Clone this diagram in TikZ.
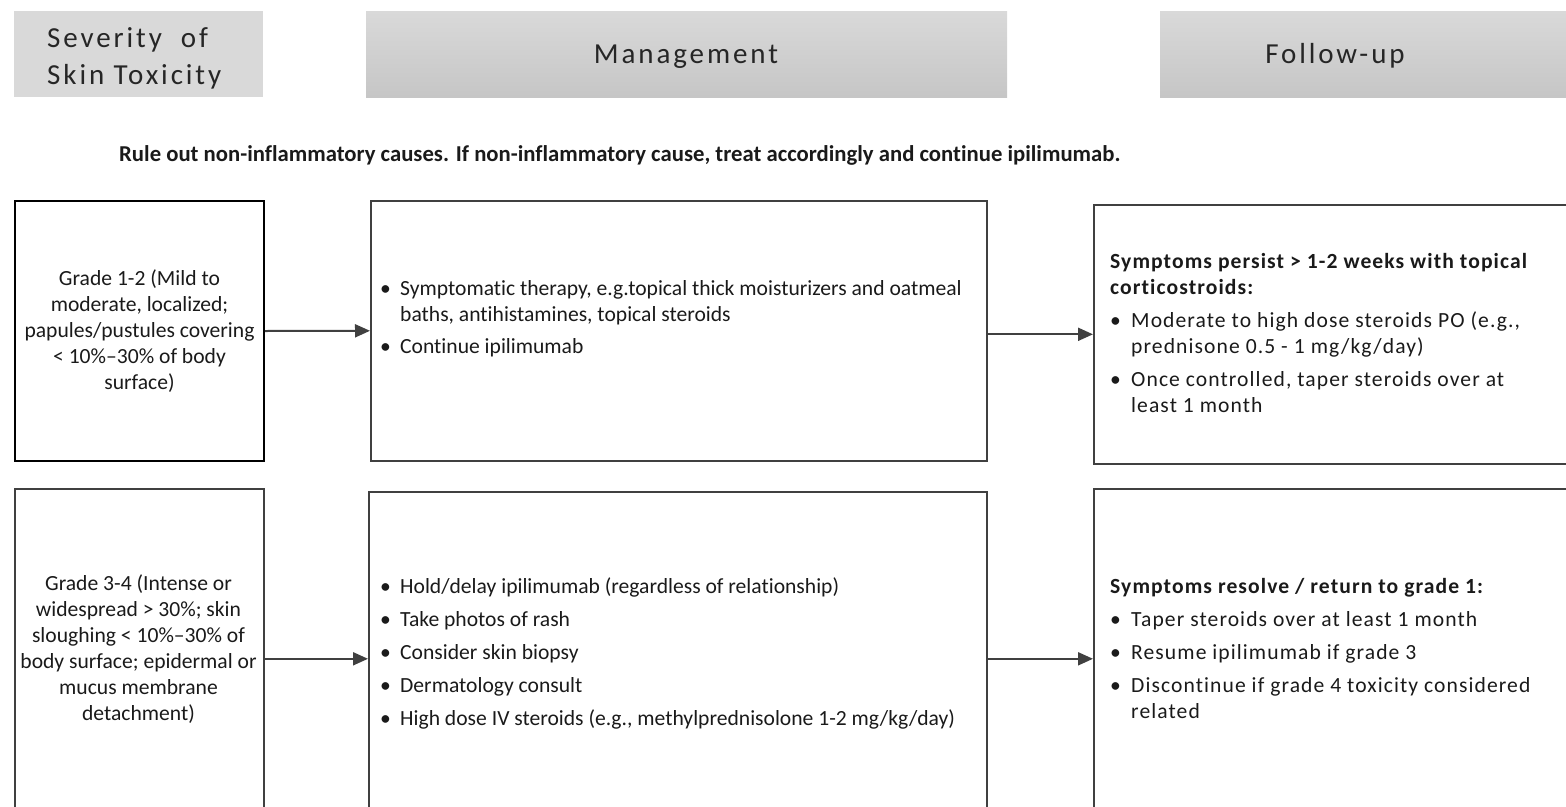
\documentclass[tikz,border=0pt]{standalone}
\usepackage{fontspec}
\setmainfont[Ligatures=NoCommon]{Carlito}
\newfontfamily\hdfont[LetterSpace=10,Ligatures=NoCommon]{Carlito}
\newfontfamily\fufont[LetterSpace=5,Ligatures=NoCommon]{Carlito}
\usetikzlibrary{arrows.meta}

\definecolor{edge}{HTML}{404040}
\definecolor{ink}{HTML}{1A1A1A}
\definecolor{hdink}{HTML}{262626}
\definecolor{hdtop}{HTML}{D9D9D9}
\definecolor{hdbot}{HTML}{C6C6C6}

% bullets for the management lists and the follow-up lists
\newcommand{\mbul}{\makebox[20pt][l]{\textbullet}}
\newcommand{\fbul}{\makebox[21pt][l]{\textbullet}}

\begin{document}
\begin{tikzpicture}[x=1pt,y=-1pt,
  header/.style={inner sep=0pt, anchor=north west, top color=hdtop, bottom color=hdbot},
  flathead/.style={inner sep=0pt, anchor=north west, fill=hdtop},
  box/.style={draw=edge, line width=1.6pt, inner sep=0pt, anchor=north west},
  gradebox/.style={draw=black, line width=2pt, inner sep=0pt, anchor=north west},
  hdtext/.style={text=hdink, inner sep=0pt, font=\hdfont\fontsize{29}{37}\selectfont},
  body/.style={text=ink, inner sep=0pt, font=\fontsize{21.6}{26}\selectfont},
  futext/.style={text=ink, inner sep=0pt, font=\fufont\fontsize{21.6}{26}\selectfont},
  link/.style={draw=edge, line width=2pt, -{Triangle[length=15pt,width=13pt]}}]

\useasboundingbox (0,0) rectangle (1566,806);
\clip (0,0) rectangle (1566,806);

% column headers
\node[flathead, minimum width=249pt, minimum height=86pt] (hsev) at (14,11) {};
\node[header, minimum width=641pt, minimum height=86pt] (hman) at (366,11) {};
\node[header, minimum width=420pt, minimum height=86pt] (hfol) at (1160,11) {};

\node[hdtext, anchor=base west] (hsevtxt) at (47,47)
  {\begin{tabular}[t]{@{}l@{}}Severity\ \ of\\ Skin Toxicity\end{tabular}};
\node[hdtext, anchor=base] (hmantxt) at (686,63) {Management};
\node[hdtext, anchor=base] (hfoltxt) at (1335,63) {Follow-up};

% general remark
\node[body, font=\bfseries\fontsize{22.7}{26}\selectfont, anchor=base west] (note) at (119,161)
  {Rule out non-inflammatory causes. If non-inflammatory cause, treat accordingly and continue ipilimumab.};

% row 1: grade 1-2
\node[gradebox, minimum width=249pt, minimum height=260pt] (g12) at (14,200) {};
\node[box, minimum width=616pt, minimum height=260pt] (m12) at (370,200) {};
\node[box, minimum width=473pt, minimum height=259pt] (f12) at (1093,204) {};

\node[body, align=center] (g12txt) at (g12.center)
  {Grade 1-2 (Mild to\\ moderate, localized;\\ papules/pustules covering\\ < 10\%–30\% of body\\ surface)};

\node[body, anchor=base west] (m12txt) at (380,295)
  {\begin{tabular}[t]{@{}l@{}}
   \mbul Symptomatic therapy, e.g.topical thick moisturizers and oatmeal\\
   \hspace*{20pt}baths, antihistamines, topical steroids\\[6pt]
   \mbul Continue ipilimumab
   \end{tabular}};

\node[futext, anchor=base west] (f12txt) at (1110,268)
  {\begin{tabular}[t]{@{}l@{}}
   \textbf{Symptoms persist > 1-2 weeks with topical}\\
   \textbf{corticostroids:}\\[7pt]
   \fbul Moderate to high dose steroids PO (e.g.,\\
   \hspace*{21pt}prednisone 0.5 - 1 mg/kg/day)\\[7pt]
   \fbul Once controlled, taper steroids over at\\
   \hspace*{21pt}least 1 month
   \end{tabular}};

% row 2: grade 3-4
\node[box, minimum width=249pt, minimum height=340pt] (g34) at (14,488) {};
\node[box, minimum width=618pt, minimum height=334pt] (m34) at (368,491) {};
\node[box, minimum width=473pt, minimum height=340pt] (f34) at (1093,488) {};

\node[body, align=center] (g34txt) at (138.5,649)
  {Grade 3-4 (Intense or\\ widespread > 30\%; skin\\ sloughing < 10\%–30\% of\\ body surface; epidermal or\\ mucus membrane\\ detachment)};

\node[body, anchor=base west] (m34txt) at (380,593)
  {\begin{tabular}[t]{@{}l@{}}
   \mbul Hold/delay ipilimumab (regardless of relationship)\\[7pt]
   \mbul Take photos of rash\\[7pt]
   \mbul Consider skin biopsy\\[7pt]
   \mbul Dermatology consult\\[7pt]
   \mbul High dose IV steroids (e.g., methylprednisolone 1-2 mg/kg/day)
   \end{tabular}};

\node[futext, anchor=base west] (f34txt) at (1110,593)
  {\begin{tabular}[t]{@{}l@{}}
   \textbf{Symptoms resolve / return to grade 1:}\\[7pt]
   \fbul Taper steroids over at least 1 month\\[7pt]
   \fbul Resume ipilimumab if grade 3\\[7pt]
   \fbul Discontinue if grade 4 toxicity considered\\
   \hspace*{21pt}related
   \end{tabular}};

% connectors
\draw[link] (g12.east) -- (m12.west);
\draw[link] (f12.west -| m12.east) -- (f12.west);
\draw[link] (g34.east) -- (g34.east -| m34.west);
\draw[link] (g34.east -| m34.east) -- (g34.east -| f34.west);

\end{tikzpicture}
\end{document}
